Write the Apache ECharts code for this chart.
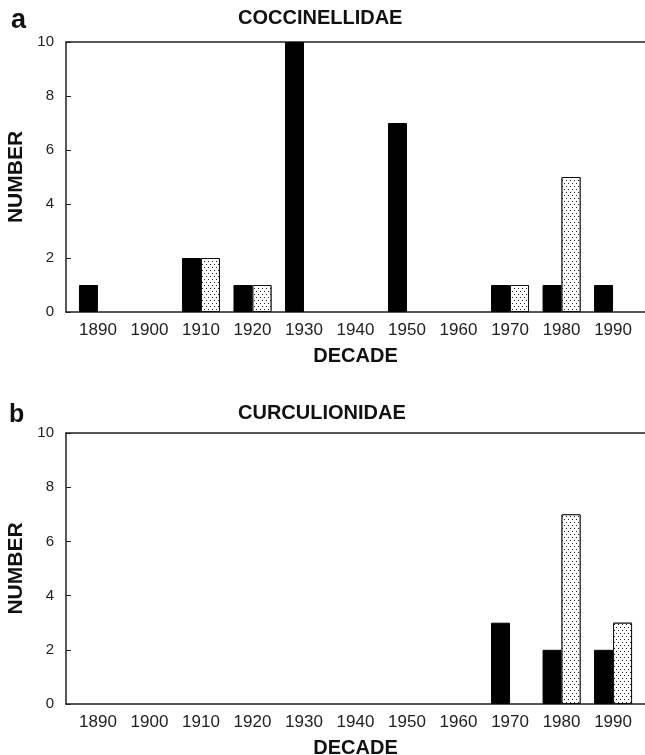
<!DOCTYPE html>
<html>
<head>
<meta charset="utf-8">
<script src="https://cdn.jsdelivr.net/npm/echarts@6/dist/echarts.min.js"></script>
<style>
  html, body { margin: 0; padding: 0; background: #fff; }
  #chart { width: 645px; height: 755px; }
</style>
</head>
<body>
<div id="chart"></div>
<script>
  // decades on the x axis
  var decades = [1890, 1900, 1910, 1920, 1930, 1940, 1950, 1960, 1970, 1980, 1990];
  var yTicks = [0, 2, 4, 6, 8, 10];

  // panel a - Coccinellidae
  var coccSolid  = [1, 0, 2, 1, 10, 0, 7, 0, 1, 1, 1];
  var coccDotted = [0, 0, 2, 1, 0, 0, 0, 0, 1, 5, 0];

  // panel b - Curculionidae
  var curcSolid  = [0, 0, 0, 0, 0, 0, 0, 0, 3, 2, 2];
  var curcDotted = [0, 0, 0, 0, 0, 0, 0, 0, 0, 7, 3];

  var font = 'Liberation Sans, Arial, sans-serif';
  var xMin = 1883.8, xMax = 1996.2;

  function pairs(vals) {
    var out = [];
    for (var i = 0; i < vals.length; i++) {
      if (vals[i] > 0) out.push([decades[i], vals[i]]);
    }
    return out;
  }

  var dots = {
    symbol: 'rect',
    symbolSize: 1,
    color: '#222',
    backgroundColor: '#fff',
    dashArrayX: [[1, 3], [0, 2, 1, 1]],
    dashArrayY: [1, 2],
    rotation: 0
  };

  function xAxisFor(idx) {
    return {
      type: 'value', gridIndex: idx, min: xMin, max: xMax,
      name: 'DECADE', nameLocation: 'middle', nameGap: 34,
      nameTextStyle: { fontFamily: font, fontWeight: 'bold', fontSize: 20, color: '#111' },
      axisLine: { lineStyle: { color: '#222', width: 1.5 } },
      axisTick: { show: false },
      splitLine: { show: false },
      axisLabel: {
        customValues: decades, fontFamily: font, fontSize: 17, color: '#222', margin: 10,
        formatter: function (v) { return String(v); }
      }
    };
  }
  function topLine(idx) {
    return {
      type: 'value', gridIndex: idx, min: xMin, max: xMax, position: 'top',
      axisLine: { show: true, lineStyle: { color: '#222', width: 1.5 } },
      axisTick: { show: false }, axisLabel: { show: false }, splitLine: { show: false }
    };
  }
  function yAxisFor(idx) {
    return {
      type: 'value', gridIndex: idx, min: 0, max: 10, interval: 2,
      name: 'NUMBER', nameLocation: 'middle', nameGap: 38,
      nameTextStyle: { fontFamily: font, fontWeight: 'bold', fontSize: 21, color: '#111' },
      axisLine: { show: true, lineStyle: { color: '#222', width: 1.5 } },
      axisTick: { show: true, inside: true, length: 5, lineStyle: { color: '#222' } },
      splitLine: { show: false },
      axisLabel: { fontFamily: font, fontSize: 15, color: '#222', margin: 12,
        customValues: yTicks }
    };
  }
  function bars(data, xi, yi, dotted) {
    return {
      type: 'bar', xAxisIndex: xi, yAxisIndex: yi,
      data: pairs(data), barWidth: 19, barGap: '0%',
      itemStyle: dotted
        ? { color: '#fff', borderColor: '#111', borderWidth: 1, decal: dots }
        : { color: '#000', borderColor: '#000', borderWidth: 1 },
      silent: true
    };
  }

  var chart = echarts.init(document.getElementById('chart'));
  chart.setOption({
    animation: false,
    backgroundColor: '#fff',
    grid: [
      { left: 66, right: 0, top: 42, height: 270, outerBoundsMode: 'none' },
      { left: 66, right: 0, top: 433, height: 271, outerBoundsMode: 'none' }
    ],
    xAxis: [xAxisFor(0), xAxisFor(1), topLine(0), topLine(1)],
    yAxis: [yAxisFor(0), yAxisFor(1)],
    graphic: [
      { type: 'text', left: 238, top: 8, style: { text: 'COCCINELLIDAE', width: 200, align: 'center', font: 'bold 20px ' + font, fill: '#111' } },
      { type: 'text', left: 238, top: 403, style: { text: 'CURCULIONIDAE', width: 200, align: 'center', font: 'bold 20px ' + font, fill: '#111' } },
      { type: 'text', left: 11, top: 7, style: { text: 'a', font: 'bold 27px ' + font, fill: '#111' } },
      { type: 'text', left: 9, top: 403, style: { text: 'b', font: 'bold 25px ' + font, fill: '#111' } }
    ],
    series: [
      bars(coccSolid, 0, 0, false),
      bars(coccDotted, 0, 0, true),
      bars(curcSolid, 1, 1, false),
      bars(curcDotted, 1, 1, true)
    ]
  });
</script>
</body>
</html>
